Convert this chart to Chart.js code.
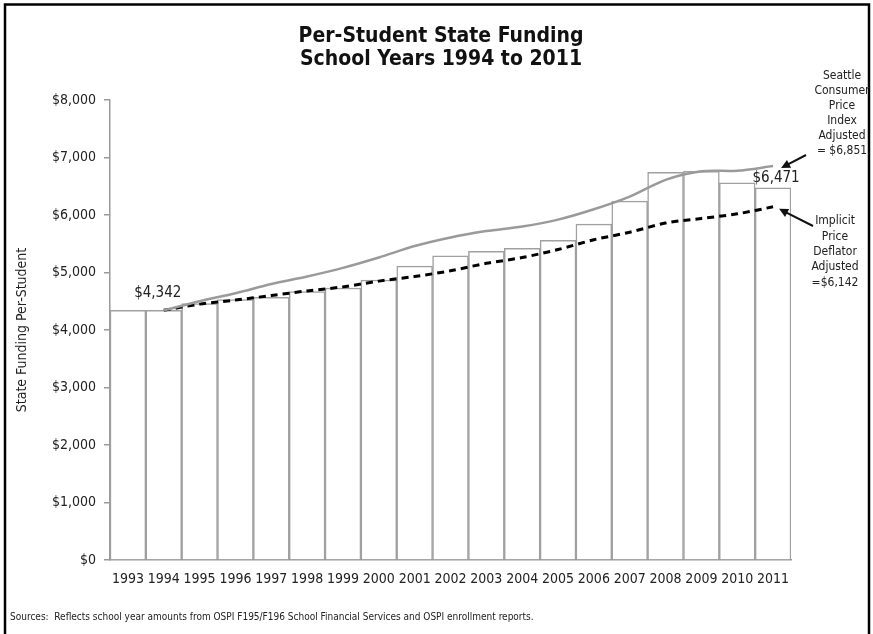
<!DOCTYPE html>
<html>
<head>
<meta charset="utf-8">
<script src="https://cdn.jsdelivr.net/npm/chart.js@4.4.1/dist/chart.umd.min.js"></script>
<style>
  html, body { margin: 0; padding: 0; background: #ffffff; }
  #wrap { position: relative; width: 873px; height: 634px; }
</style>
</head>
<body>
<div id="wrap"><canvas id="c" width="873" height="634"></canvas></div>
<script>
const years = ['1993','1994','1995','1996','1997','1998','1999','2000','2001','2002','2003','2004','2005','2006','2007','2008','2009','2010','2011'];
const funding = [4342, 4342, 4460, 4530, 4570, 4670, 4730, 4870, 5110, 5290, 5370, 5420, 5560, 5840, 6240, 6740, 6760, 6560, 6471];
const cpiAdjusted = [null, 4342, 4500, 4640, 4800, 4930, 5080, 5260, 5460, 5610, 5720, 5800, 5920, 6100, 6320, 6610, 6760, 6770, 6851];
const deflatorAdjusted = [null, 4342, 4450, 4520, 4600, 4680, 4750, 4850, 4930, 5030, 5160, 5260, 5400, 5570, 5700, 5860, 5940, 6020, 6142];
const yTicks = [0, 1000, 2000, 3000, 4000, 5000, 6000, 7000, 8000];

const titleLines = ['Per-Student State Funding', 'School Years 1994 to 2011'];
const yAxisTitle = 'State Funding Per-Student';
const sourceText = 'Sources:  Reflects school year amounts from OSPI F195/F196 School Financial Services and OSPI enrollment reports.';
const cpiNote = ['Seattle', 'Consumer', 'Price', 'Index', 'Adjusted', '= $6,851'];
const deflatorNote = ['Implicit', 'Price', 'Deflator', 'Adjusted', '=$6,142'];

const FONT = '"DejaVu Sans Condensed", "DejaVu Sans", Tahoma, sans-serif';
const fmt = v => '$' + v.toLocaleString('en-US');

function arrow(ctx, x1, y1, x2, y2) {
  const a = Math.atan2(y2 - y1, x2 - x1);
  const L = 9, W = 4.5;
  ctx.beginPath();
  ctx.moveTo(x1, y1);
  ctx.lineTo(x2 - Math.cos(a) * L * 0.8, y2 - Math.sin(a) * L * 0.8);
  ctx.stroke();
  ctx.beginPath();
  ctx.moveTo(x2, y2);
  ctx.lineTo(x2 - Math.cos(a) * L - Math.sin(a) * W, y2 - Math.sin(a) * L + Math.cos(a) * W);
  ctx.lineTo(x2 - Math.cos(a) * L + Math.sin(a) * W, y2 - Math.sin(a) * L - Math.cos(a) * W);
  ctx.closePath();
  ctx.fill();
}

const decor = {
  id: 'decor',
  afterDraw(chart) {
    const ctx = chart.ctx;
    const xs = chart.scales.x, ys = chart.scales.y;
    ctx.save();
    // frame
    ctx.strokeStyle = '#000';
    ctx.lineWidth = 2.5;
    ctx.strokeRect(5, 4.5, 864, 700);
    // title
    ctx.fillStyle = '#111';
    ctx.textAlign = 'center';
    ctx.textBaseline = 'middle';
    ctx.font = 'bold 21px ' + FONT;
    ctx.fillText(titleLines[0], 441, 37);
    ctx.fillText(titleLines[1], 441, 60);
    // value labels
    ctx.font = '15px ' + FONT;
    ctx.fillStyle = '#222';
    ctx.fillText(fmt(funding[0]), xs.getPixelForValue(1) - 6, ys.getPixelForValue(funding[1]) - 17);
    const last = funding.length - 1;
    ctx.fillText(fmt(funding[last]), xs.getPixelForValue(last) + 3, ys.getPixelForValue(funding[last]) - 10);
    // notes
    ctx.font = '12px ' + FONT;
    cpiNote.forEach((t, i) => ctx.fillText(t, 842, 76 + i * 15));
    deflatorNote.forEach((t, i) => ctx.fillText(t, 835, 221 + i * 15.4));
    // arrows
    ctx.strokeStyle = '#111';
    ctx.fillStyle = '#111';
    ctx.lineWidth = 2;
    arrow(ctx, 806, 155, xs.getPixelForValue(last) + 8, ys.getPixelForValue(cpiAdjusted[last]) + 2);
    arrow(ctx, 813, 226, xs.getPixelForValue(last) + 6, ys.getPixelForValue(deflatorAdjusted[last]) + 2);
    // source
    ctx.textAlign = 'left';
    ctx.font = '10px ' + FONT;
    ctx.fillStyle = '#222';
    ctx.fillText(sourceText, 10, 617);
    ctx.restore();
  }
};

new Chart(document.getElementById('c'), {
  data: {
    labels: years,
    datasets: [
      {
        type: 'line', label: 'CPI Adjusted', data: cpiAdjusted, order: 1,
        borderColor: '#9a9a9a', borderWidth: 2.5, pointRadius: 0, tension: 0.3, spanGaps: false
      },
      {
        type: 'line', label: 'Deflator Adjusted', data: deflatorAdjusted, order: 2,
        borderColor: '#000000', borderWidth: 3, borderDash: [7, 5], pointRadius: 0, tension: 0.3
      },
      {
        type: 'bar', label: 'State Funding', data: funding, order: 3,
        backgroundColor: '#ffffff', borderColor: '#a0a0a0', borderWidth: 1.5,
        categoryPercentage: 1.0, barPercentage: 1.0
      }
    ]
  },
  options: {
    responsive: false,
    devicePixelRatio: 1,
    animation: false,
    layout: { padding: { top: 100, right: 82, bottom: 0, left: 0 } },
    plugins: { legend: { display: false }, tooltip: { enabled: false }, title: { display: false } },
    scales: {
      x: {
        grid: { display: false, drawTicks: false },
        border: { display: true, color: '#9a9a9a', width: 1.5 },
        ticks: { color: '#222', font: { family: FONT, size: 14 }, padding: 11, maxRotation: 0, autoSkip: false },
        afterFit(s) { s.height = 74; }
      },
      y: {
        min: 0, max: 8000,
        afterBuildTicks(s) { s.ticks = yTicks.map(v => ({ value: v })); },
        grid: { drawOnChartArea: false, drawTicks: true, tickLength: 6, color: '#9a9a9a', lineWidth: 1.5 },
        border: { display: true, color: '#9a9a9a', width: 1.5 },
        ticks: { color: '#222', font: { family: FONT, size: 14 }, padding: 8, callback: v => fmt(v) },
        title: { display: true, text: yAxisTitle, color: '#222', font: { family: FONT, size: 14 }, padding: { top: 14, bottom: 0 } },
        afterFit(s) { s.width = 110; }
      }
    }
  },
  plugins: [decor]
});
</script>
</body>
</html>
